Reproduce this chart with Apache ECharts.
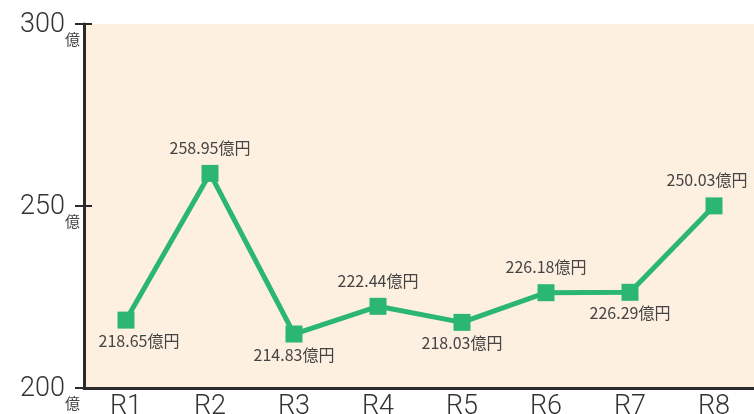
<!DOCTYPE html>
<html><head><meta charset="utf-8">
<script src="https://cdn.jsdelivr.net/npm/echarts@6/dist/echarts.min.js"></script>
<style>html,body{margin:0;padding:0;background:#fff}#c{width:754px;height:414px}</style>
</head><body><div id="c"></div>
<script>
const categories = ['R1','R2','R3','R4','R5','R6','R7','R8'];
const values = [218.65, 258.95, 214.83, 222.44, 218.03, 226.18, 226.29, 250.03];
const labelPositions = ['bottom','top','bottom','top','bottom','top','bottom','top'];
const yTicks = [200, 250, 300];
const unitY = '億';
const unitLabel = '億円';

const FONT = "'Roboto',sans-serif";
function labelFor(i){
  const top = labelPositions[i] === 'top';
  let dx = 0;
  if (i === 0) dx = 13;
  if (i === categories.length - 1) dx = -7;
  return {position: labelPositions[i], distance: top ? 9 : 4, offset:[dx, 0]};
}
const chart = echarts.init(document.getElementById('c'), null, {renderer:'canvas'});
chart.setOption({
  animation:false,
  grid:{left:84, top:24, width:672, bottom:26, show:true, backgroundColor:'#fdf0e1', borderWidth:0, containLabel:false, outerBoundsMode:'none'},
  xAxis:{type:'category', data:categories, boundaryGap:true,
    axisLine:{lineStyle:{color:'#2b2b2b', width:3}},
    axisTick:{inside:true, length:9, lineStyle:{color:'#2b2b2b', width:2}},
    axisLabel:{color:'#333', fontFamily:FONT, fontWeight:300, fontSize:27, margin:6}
  },
  yAxis:[{type:'value', min:yTicks[0], max:yTicks[yTicks.length-1], interval:50,
    splitLine:{show:false},
    axisLine:{show:true, lineStyle:{color:'#2b2b2b', width:3}},
    axisTick:{show:true, inside:false, length:9, lineStyle:{color:'#2b2b2b', width:2}},
    axisLabel:{margin:4, padding:[0,0,20,0], formatter:v=>'{a|'+v+'}{b|'+unitY+'}',
      rich:{a:{fontFamily:FONT, fontWeight:300, fontSize:27, lineHeight:28, color:'#333', padding:[12,0,12,0], verticalAlign:'top'},
            b:{fontFamily:"'Noto Sans CJK JP',sans-serif", fontSize:15, lineHeight:16, color:'#444', padding:[32,0,0,0], verticalAlign:'top'}}}
  },{type:'value', min:yTicks[0], max:yTicks[yTicks.length-1], interval:50,
    position:'left', splitLine:{show:false}, axisLine:{show:false},
    axisTick:{show:true, inside:true, length:8, lineStyle:{color:'#2b2b2b', width:2}},
    axisLabel:{show:false}
  }],
  series:[{type:'line', data:values.map((v,i)=>({value:v, label:labelFor(i)})),
    symbol:'rect', symbolSize:17, showAllSymbol:true,
    lineStyle:{color:'#2bb673', width:5}, itemStyle:{color:'#2bb673'},
    label:{show:true, color:'#444', fontSize:16, fontFamily:"'Noto Sans CJK JP','Noto Sans',sans-serif",
      formatter:p=>p.value.toFixed(2)+unitLabel}
  }]
});
</script></body></html>
